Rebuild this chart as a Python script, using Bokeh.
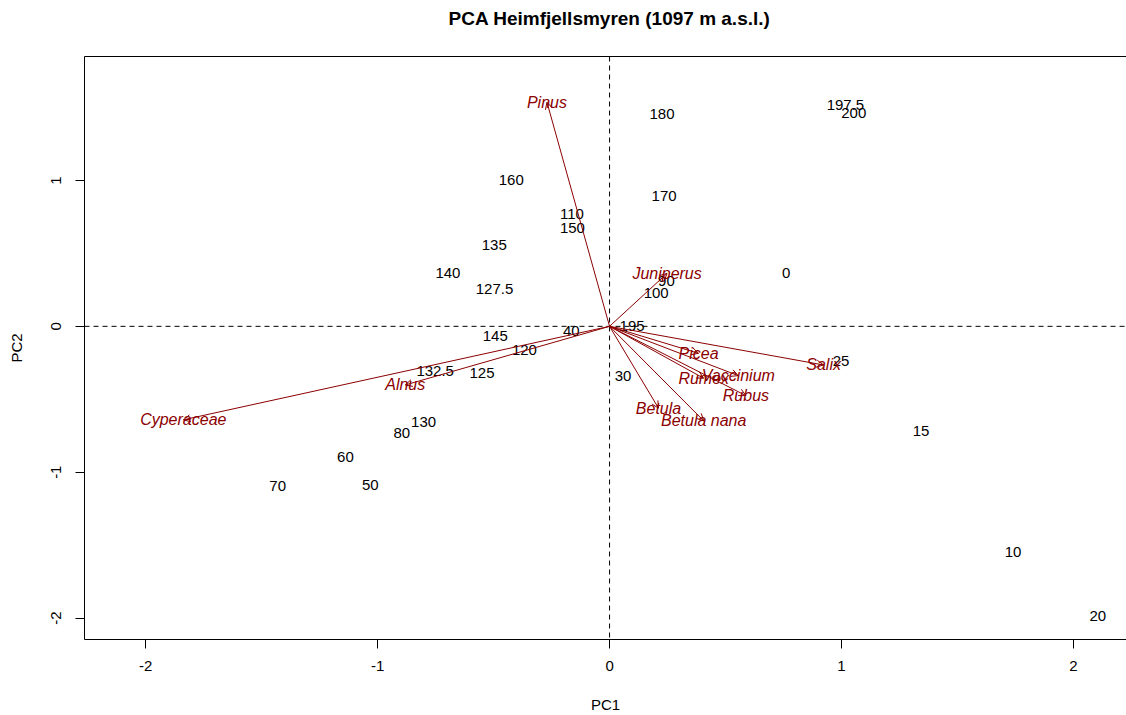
from bokeh.plotting import figure
from bokeh.models import Range1d, Span, Arrow, OpenHead, ColumnDataSource, FixedTicker, LinearAxis
from bokeh.core.properties import value
from bokeh.embed import file_html
from bokeh.resources import INLINE

# Sample scores (depth labels, cm) on the first two principal components
sample_labels = ["197.5", "200", "180", "160", "170", "110", "150", "135", "140", "127.5",
                 "0", "90", "100", "195", "40", "145", "120", "132.5", "125", "30",
                 "25", "130", "80", "15", "60", "70", "50", "10", "20"]
sample_pc1 = [1.017, 1.053, 0.226, -0.424, 0.235, -0.162, -0.160, -0.497, -0.697, -0.496,
              0.762, 0.245, 0.201, 0.097, -0.165, -0.493, -0.367, -0.752, -0.550, 0.058,
              0.998, -0.802, -0.896, 1.343, -1.139, -1.431, -1.032, 1.740, 2.105]
sample_pc2 = [1.519, 1.465, 1.453, 1.001, 0.892, 0.773, 0.675, 0.556, 0.363, 0.253,
              0.367, 0.310, 0.226, 0.004, -0.032, -0.066, -0.159, -0.306, -0.322, -0.340,
              -0.238, -0.653, -0.732, -0.715, -0.899, -1.093, -1.086, -1.550, -1.983]

# Pollen taxa loadings
species = ["Pinus", "Juniperus", "Picea", "Salix", "Vaccinium", "Rumex", "Rubus",
           "Betula", "Betula nana", "Alnus", "Cyperaceae"]
species_pc1 = [-0.270, 0.248, 0.384, 0.923, 0.555, 0.406, 0.588, 0.211, 0.406, -0.881, -1.838]
species_pc2 = [1.537, 0.363, -0.185, -0.265, -0.338, -0.356, -0.475, -0.561, -0.648, -0.402, -0.641]

x_ticks = [-2, -1, 0, 1, 2]
y_ticks = [-2, -1, 0, 1]

FONT = "Liberation Sans"
DARKRED = "#8B0000"

p = figure(width=1126, height=715, output_backend="svg", toolbar_location=None,
           x_range=Range1d(-2.264, 2.229), y_range=Range1d(-2.147, 1.850),
           min_border_left=84, min_border_right=0, min_border_top=56, min_border_bottom=75,
           x_axis_label="PC1", y_axis_label="PC2")

p.title.text = "PCA Heimfjellsmyren (1097 m a.s.l.)"
p.title.align = "left"
p.title.offset = 364
p.title.standoff = 4
p.title.text_font = FONT
p.title.text_font_size = "19px"
p.title.text_font_style = "bold"
p.title.text_color = "black"

p.outline_line_color = None
p.grid.visible = False
p.background_fill_color = "white"
p.border_fill_color = "white"

for ax in (p.xaxis[0], p.yaxis[0]):
    ax.axis_line_color = "black"
    ax.major_tick_line_color = "black"
    ax.major_tick_out = 9
    ax.major_tick_in = 0
    ax.minor_tick_line_color = None
    ax.major_label_text_font = FONT
    ax.major_label_text_font_size = "15px"
    ax.major_label_text_color = "black"
    ax.axis_label_text_font = FONT
    ax.axis_label_text_font_size = "15px"
    ax.axis_label_text_font_style = "normal"
    ax.axis_label_text_color = "black"

p.xaxis[0].ticker = FixedTicker(ticks=x_ticks)
p.yaxis[0].ticker = FixedTicker(ticks=y_ticks)
p.xaxis[0].major_label_overrides = {t: str(t) for t in x_ticks}
p.yaxis[0].major_label_overrides = {t: str(t) for t in y_ticks}
p.xaxis[0].major_label_standoff = 12
p.xaxis[0].axis_label_standoff = 22
p.yaxis[0].major_label_orientation = "vertical"
p.yaxis[0].major_label_standoff = 14
p.yaxis[0].axis_label_standoff = 24

# top edge of the plot box; a blank label keeps a gap between it and the title
top = LinearAxis(ticker=FixedTicker(ticks=[]), axis_line_color="black",
                 major_tick_line_color=None, minor_tick_line_color=None,
                 major_label_text_font_size="0px",
                 axis_label="\u00a0", axis_label_text_font_size="10px",
                 axis_label_standoff=12)
p.add_layout(top, "above")

# dashed zero lines
p.add_layout(Span(location=0, dimension="height", line_color="black", line_dash="5 4", line_width=1))
p.add_layout(Span(location=0, dimension="width", line_color="black", line_dash="5 4", line_width=1))

# sample labels
ssrc = ColumnDataSource(dict(x=sample_pc1, y=sample_pc2, t=sample_labels))
p.text(x="x", y="y", text="t", source=ssrc, text_align="center", text_baseline="middle",
       text_font=value(FONT), text_font_size="15px", text_color="black")

# loading arrows from the origin
asrc = ColumnDataSource(dict(x0=[0] * len(species), y0=[0] * len(species),
                             x1=species_pc1, y1=species_pc2, t=species))
p.add_layout(Arrow(x_start="x0", y_start="y0", x_end="x1", y_end="y1", source=asrc,
                   line_color=DARKRED, line_width=1,
                   end=OpenHead(size=7, line_color=DARKRED, line_width=1)))

p.text(x="x1", y="y1", text="t", source=asrc, text_align="center", text_baseline="middle",
       text_font=value(FONT), text_font_size="16px", text_font_style="italic", text_color=DARKRED)

open("out.html", "w").write(file_html(p, INLINE))
